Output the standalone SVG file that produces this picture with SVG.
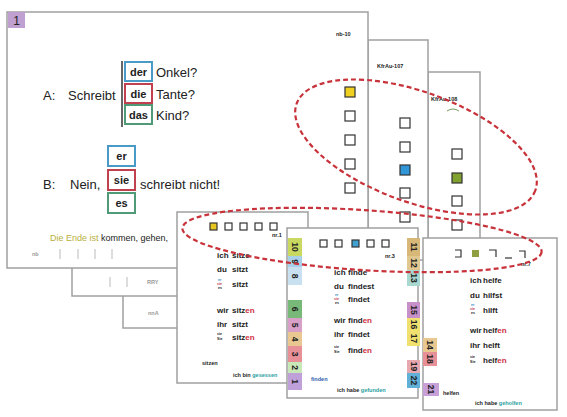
<svg xmlns="http://www.w3.org/2000/svg" width="567" height="417" viewBox="0 0 567 417">
<defs>
<style>
.card{fill:#fff;stroke:#a0a0a0;stroke-width:1.5}
.t{font-family:"Liberation Sans",Arial,sans-serif;fill:#222}
.m{font-size:13px}
.bx{font-size:11px;font-weight:bold;text-anchor:middle}
.s{font-size:8px;font-weight:bold}
.xs{font-size:5.5px;font-weight:bold}
.tiny{font-size:3.6px;font-weight:bold}
.red{fill:#d03040}
.teal{fill:#2aa0a0}
.sq{fill:#fff;stroke:#333;stroke-width:1.2}
.num{font-size:8.5px;font-weight:bold;text-anchor:middle}
.dash{fill:none;stroke:#c8323a;stroke-width:2.2;stroke-dasharray:5 3}
.gr{fill:#999}
.tick{stroke:#bbb;stroke-width:1}
</style>
</defs>

<!-- back cards of stack 1 -->
<g id="back-card-2">
<rect class="card" x="123" y="200" width="120" height="128"/>
<text class="t xs gr" x="148" y="315">nnA</text>
</g>
<g id="back-card-1">
<rect class="card" x="72" y="200" width="140" height="96"/>
<line class="tick" x1="110" y1="277" x2="110" y2="287"/>
<line class="tick" x1="127" y1="277" x2="127" y2="287"/>
<text class="t xs gr" x="147" y="284">RRY</text>
</g>

<!-- top-right back cards -->
<g id="card-c">
<rect class="card" x="428" y="72" width="52" height="200"/>
<text class="t xs" x="431" y="101">KfrAu-108</text>
<path d="M447,111 q6,-4 12,0" fill="none" stroke="#7a9a60" stroke-width="1"/>
<rect class="sq" x="452" y="149" width="10" height="10"/>
<rect class="sq" x="452" y="173" width="10" height="10" style="fill:#80a030"/>
<rect class="sq" x="452" y="196" width="10" height="10"/>
<rect class="sq" x="452" y="220" width="10" height="10"/>
</g>
<g id="card-b">
<rect class="card" x="368" y="40" width="60" height="220"/>
<text class="t xs" x="377" y="68">KfrAu-107</text>
<rect class="sq" x="400" y="118" width="10" height="10"/>
<rect class="sq" x="400" y="142" width="10" height="10"/>
<rect class="sq" x="400" y="165" width="10" height="10" style="fill:#3096d8"/>
<rect class="sq" x="400" y="188" width="10" height="10"/>
<rect class="sq" x="400" y="212" width="10" height="10"/>
</g>

<!-- main card -->
<g id="card-1">
<rect class="card" x="7" y="12" width="361" height="256"/>
<rect x="8" y="12" width="17" height="16" fill="#c0a0d0"/>
<text class="t" x="16.5" y="25" font-size="12" text-anchor="middle">1</text>
<text class="t xs" x="336" y="36">nb-10</text>
<rect class="sq" x="345" y="87" width="10" height="10" style="fill:#f0d020"/>
<rect class="sq" x="345" y="111" width="10" height="10"/>
<rect class="sq" x="345" y="135" width="10" height="10"/>
<rect class="sq" x="345" y="159" width="10" height="10"/>
<rect class="sq" x="345" y="183" width="10" height="10"/>

<text class="t m" x="43" y="100">A:</text>
<text class="t m" x="68" y="100">Schreibt</text>
<line x1="122" y1="61" x2="122" y2="127" stroke="#333" stroke-width="1.5"/>
<rect x="125" y="62" width="27" height="19" fill="#fff" stroke="#4a9ac8" stroke-width="2"/>
<text class="t bx" x="138.5" y="76">der</text>
<text class="t m" x="156" y="77">Onkel?</text>
<rect x="125" y="84" width="27" height="19" fill="#fff" stroke="#c04050" stroke-width="2"/>
<text class="t bx" x="138.5" y="98">die</text>
<text class="t m" x="156" y="99">Tante?</text>
<rect x="125" y="105" width="27" height="19" fill="#fff" stroke="#509a78" stroke-width="2"/>
<text class="t bx" x="138.5" y="119">das</text>
<text class="t m" x="156" y="120">Kind?</text>

<text class="t m" x="43" y="189">B:</text>
<text class="t m" x="70" y="189">Nein,</text>
<rect x="108" y="146" width="27" height="20" fill="#fff" stroke="#4a9ac8" stroke-width="2"/>
<text class="t bx" x="121.5" y="160">er</text>
<rect x="108" y="170" width="27" height="20" fill="#fff" stroke="#c04050" stroke-width="2"/>
<text class="t bx" x="121.5" y="184">sie</text>
<rect x="108" y="193" width="27" height="20" fill="#fff" stroke="#509a78" stroke-width="2"/>
<text class="t bx" x="121.5" y="207">es</text>
<text class="t m" x="140" y="189">schreibt nicht!</text>

<text class="t" x="50" y="241" font-size="9"><tspan fill="#b8b040">Die Ende ist</tspan> kommen, gehen,</text>
<text class="t xs gr" x="32" y="256">nb</text>
<line class="tick" x1="60" y1="249" x2="60" y2="259"/>
<line class="tick" x1="78" y1="249" x2="78" y2="259"/>
<line class="tick" x1="95" y1="249" x2="95" y2="259"/>
<line class="tick" x1="112" y1="249" x2="112" y2="259"/>
</g>

<!-- card sitzen -->
<g id="card-2">
<rect class="card" x="177" y="212" width="131" height="171"/>
<rect class="sq" x="210" y="223" width="7" height="7" style="fill:#e8c820"/>
<rect class="sq" x="225" y="223" width="7" height="7"/>
<rect class="sq" x="240" y="223" width="7" height="7"/>
<rect class="sq" x="255" y="223" width="7" height="7"/>
<rect class="sq" x="270" y="223" width="7" height="7"/>
<text class="t xs" x="272" y="237">nr.1</text>
<text class="t s" x="217" y="258">ich</text><text class="t s" x="232" y="258">sitze</text>
<text class="t s" x="217" y="272">du</text><text class="t s" x="232" y="272">sitzt</text>
<text class="t tiny" x="218" y="281"><tspan fill="#3090c0">er</tspan></text>
<text class="t tiny" x="217" y="285"><tspan fill="#c04050">sie</tspan></text>
<text class="t tiny" x="218" y="289">es</text>
<text class="t s" x="232" y="287">sitzt</text>
<text class="t s" x="217" y="313">wir</text><text class="t s" x="232" y="313">sitz<tspan class="red">en</tspan></text>
<text class="t s" x="217" y="327">ihr</text><text class="t s" x="232" y="327">sitzt</text>
<text class="t tiny" x="217" y="335">sie</text>
<text class="t tiny" x="217" y="340">Sie</text>
<text class="t s" x="232" y="340">sitz<tspan class="red">en</tspan></text>
<text class="t xs" x="202" y="365">sitzen</text>
<text class="t xs" x="233" y="377">ich bin <tspan class="teal">gesessen</tspan></text>
</g>

<!-- card finden -->
<g id="card-3">
<rect class="card" x="287" y="228" width="131" height="170"/>
<rect class="sq" x="320" y="240" width="7" height="7"/>
<rect class="sq" x="335" y="240" width="7" height="7"/>
<rect class="sq" x="352" y="240" width="7" height="7" style="fill:#40a0d0"/>
<rect class="sq" x="367" y="240" width="7" height="7"/>
<rect class="sq" x="382" y="240" width="7" height="7"/>
<text class="t xs" x="385" y="258">nr.3</text>
<text class="t s" x="334" y="275">ich</text><text class="t s" x="348" y="275">finde</text>
<text class="t s" x="334" y="289">du</text><text class="t s" x="348" y="289">findest</text>
<text class="t tiny" x="335" y="296"><tspan fill="#3090c0">er</tspan></text>
<text class="t tiny" x="334" y="300"><tspan fill="#c04050">sie</tspan></text>
<text class="t tiny" x="335" y="304">es</text>
<text class="t s" x="348" y="302">findet</text>
<text class="t s" x="334" y="323">wir</text><text class="t s" x="348" y="323">find<tspan class="red">en</tspan></text>
<text class="t s" x="334" y="337">ihr</text><text class="t s" x="348" y="337">findet</text>
<text class="t tiny" x="334" y="348">sie</text>
<text class="t tiny" x="334" y="353">Sie</text>
<text class="t s" x="348" y="353">find<tspan class="red">en</tspan></text>
<text class="t xs" x="311" y="381"><tspan fill="#3060b0">finden</tspan></text>
<text class="t xs" x="337" y="392">ich habe <tspan class="teal">gefunden</tspan></text>

<rect x="288" y="238" width="14" height="18" fill="#c8d860"/><text class="t num" transform="translate(295,247) rotate(90)" y="3">10</text>
<rect x="288" y="256" width="14" height="11" fill="#a8d0e8"/><text class="t num" transform="translate(295,261.5) rotate(90)" y="3">9</text>
<rect x="288" y="267" width="14" height="18" fill="#c8e0f0"/><text class="t num" transform="translate(295,276) rotate(90)" y="3">8</text>
<rect x="288" y="300" width="14" height="18" fill="#78b878"/><text class="t num" transform="translate(295,309) rotate(90)" y="3">6</text>
<rect x="288" y="318" width="14" height="14" fill="#d8a0c8"/><text class="t num" transform="translate(295,325) rotate(90)" y="3">5</text>
<rect x="288" y="332" width="14" height="14" fill="#e8c890"/><text class="t num" transform="translate(295,339) rotate(90)" y="3">4</text>
<rect x="288" y="346" width="14" height="16" fill="#e89098"/><text class="t num" transform="translate(295,354) rotate(90)" y="3">3</text>
<rect x="288" y="362" width="14" height="11" fill="#c8e8b8"/><text class="t num" transform="translate(295,367.5) rotate(90)" y="3">2</text>
<rect x="288" y="373" width="14" height="17" fill="#c0a0d8"/><text class="t num" transform="translate(295,381.5) rotate(90)" y="3">1</text>

<rect x="407" y="238" width="13" height="18" fill="#d8b878"/><text class="t num" transform="translate(413.5,247) rotate(90)" y="3">11</text>
<rect x="407" y="256" width="13" height="14" fill="#e0c890"/><text class="t num" transform="translate(413.5,263) rotate(90)" y="3">12</text>
<rect x="407" y="270" width="13" height="16" fill="#a8d8d0"/><text class="t num" transform="translate(413.5,278) rotate(90)" y="3">13</text>
<rect x="407" y="302" width="13" height="16" fill="#c890c8"/><text class="t num" transform="translate(413.5,310) rotate(90)" y="3">15</text>
<rect x="407" y="318" width="13" height="13" fill="#f0e070"/><text class="t num" transform="translate(413.5,324.5) rotate(90)" y="3">16</text>
<rect x="407" y="331" width="13" height="15" fill="#f0e070"/><text class="t num" transform="translate(413.5,338.5) rotate(90)" y="3">17</text>
<rect x="407" y="360" width="13" height="13" fill="#e8a8b0"/><text class="t num" transform="translate(413.5,366.5) rotate(90)" y="3">19</text>
<rect x="407" y="373" width="13" height="15" fill="#60b0d8"/><text class="t num" transform="translate(413.5,380.5) rotate(90)" y="3">22</text>
</g>

<!-- card helfen -->
<g id="card-4">
<rect class="card" x="423" y="238" width="134" height="172"/>
<path d="M455,250 h6 v7 h-6" fill="none" stroke="#333" stroke-width="1.2"/>
<rect x="472" y="250" width="7" height="7" fill="#90a040"/>
<path d="M489,250 h7 v7" fill="none" stroke="#333" stroke-width="1.2"/>
<path d="M505,258 h7" fill="none" stroke="#333" stroke-width="1.2"/>
<path d="M519,251 h6 v7" fill="none" stroke="#333" stroke-width="1.2"/>
<text class="t xs" x="521" y="266">nr.7</text>
<text class="t s" x="470" y="283">ich</text><text class="t s" x="483" y="283">helfe</text>
<text class="t s" x="470" y="298">du</text><text class="t s" x="483" y="298">hilfst</text>
<text class="t tiny" x="471" y="306"><tspan fill="#3090c0">er</tspan></text>
<text class="t tiny" x="470" y="310"><tspan fill="#c04050">sie</tspan></text>
<text class="t tiny" x="471" y="314">es</text>
<text class="t s" x="483" y="313">hilft</text>
<text class="t s" x="470" y="333">wir</text><text class="t s" x="483" y="333">helf<tspan class="red">en</tspan></text>
<text class="t s" x="470" y="348">ihr</text><text class="t s" x="483" y="348">helft</text>
<text class="t tiny" x="470" y="358">sie</text>
<text class="t tiny" x="470" y="363">Sie</text>
<text class="t s" x="483" y="363">helf<tspan class="red">en</tspan></text>
<text class="t xs" x="443" y="395">helfen</text>
<text class="t xs" x="475" y="405">ich habe <tspan class="teal">geholfen</tspan></text>
<rect x="423" y="338" width="14" height="14" fill="#e8c890"/><text class="t num" transform="translate(430,345) rotate(90)" y="3">14</text>
<rect x="423" y="352" width="14" height="14" fill="#e89098"/><text class="t num" transform="translate(430,359) rotate(90)" y="3">18</text>
<rect x="423" y="383" width="16" height="13" fill="#c8a0d8"/><text class="t num" transform="translate(431,389.5) rotate(90)" y="3">21</text>
</g>

<!-- highlight ellipses -->
<g id="connectors">
<ellipse class="dash" cx="416" cy="147" rx="127" ry="55" transform="rotate(20 416 147)"/>
<ellipse class="dash" cx="362" cy="240" rx="180" ry="30" transform="rotate(3.8 362 240)"/>
</g>
</svg>
